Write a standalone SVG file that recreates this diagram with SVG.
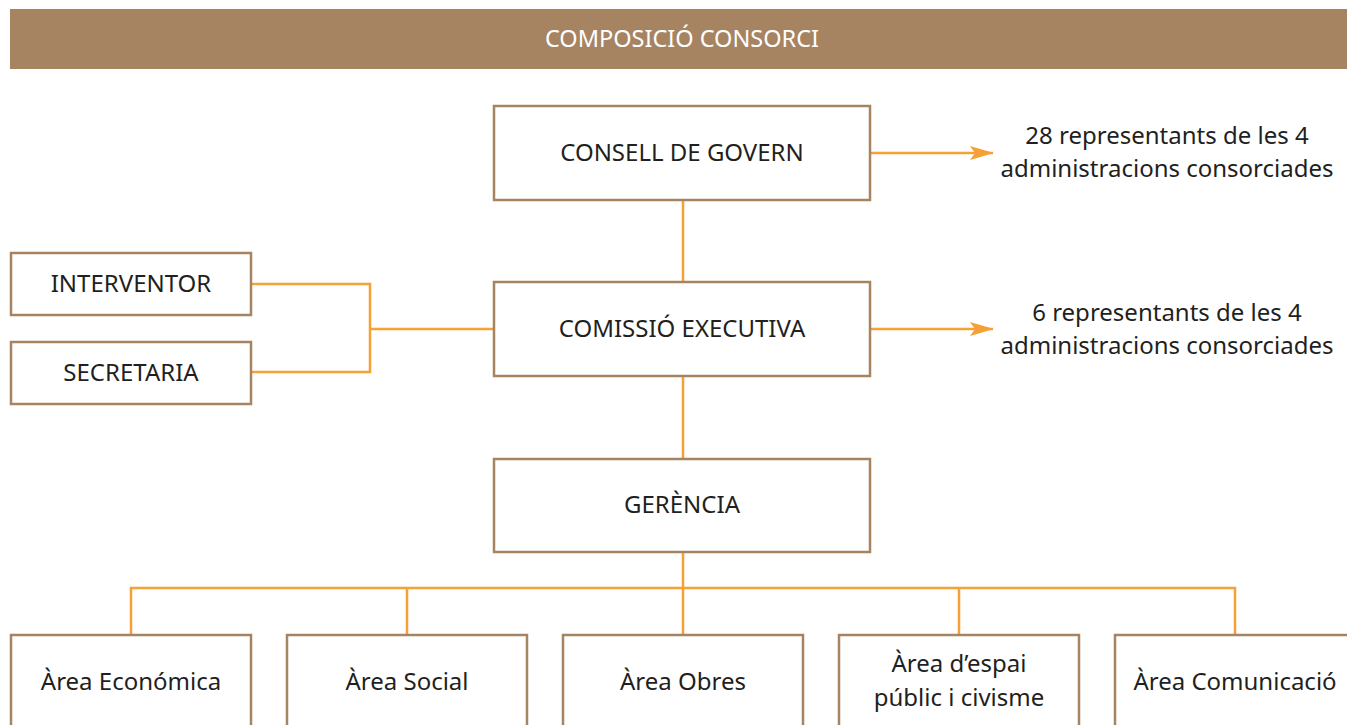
<svg xmlns="http://www.w3.org/2000/svg" width="1347" height="725" viewBox="0 0 1347 725">
<defs>
<style>
.box{fill:#fff;stroke:#a68462;stroke-width:2.5}
.t{font-family:"Noto Sans","Open Sans",sans-serif;font-size:24px;fill:#231f20;text-anchor:middle}
.c{fill:none;stroke:#f7a035;stroke-width:2.5}
.hd{font-family:"Noto Sans","Open Sans",sans-serif;font-size:23.5px;fill:#fff;text-anchor:middle}
</style>
<marker id="ah" markerWidth="24" markerHeight="16" refX="23" refY="8" orient="auto" markerUnits="userSpaceOnUse">
<path d="M0,1 L24,8 L0,15 L5,8 Z" fill="#f7a035"/>
</marker>
</defs>
<rect width="1347" height="725" fill="#fff"/>
<g id="header">
<rect x="10" y="9" width="1337" height="60" fill="#a68462"/>
<text class="hd" x="682" y="47">COMPOSICIÓ CONSORCI</text>
</g>
<g id="connectors">
<path class="c" d="M683,200 V282 M683,377 V458 M683,552 V588 M131,635 V588 H1235 V635 M407,588 V635 M683,588 V635 M959,588 V635"/>
<path class="c" d="M251,284 H370 V372 H251 M370,329 H493"/>
<path class="c" d="M870,153 H993" marker-end="url(#ah)"/>
<path class="c" d="M870,329 H993" marker-end="url(#ah)"/>
</g>
<g id="consell">
<rect class="box" x="494" y="106" width="376" height="94"/>
<text class="t" x="682" y="161">CONSELL DE GOVERN</text>
</g>
<g id="consell-note">
<text class="t" x="1167" y="144">28 representants de les 4</text>
<text class="t" x="1167" y="177">administracions consorciades</text>
</g>
<g id="comissio">
<rect class="box" x="494" y="282" width="376" height="94"/>
<text class="t" x="682" y="337">COMISSIÓ EXECUTIVA</text>
</g>
<g id="comissio-note">
<text class="t" x="1167" y="321">6 representants de les 4</text>
<text class="t" x="1167" y="354">administracions consorciades</text>
</g>
<g id="interventor">
<rect class="box" x="11" y="253" width="240" height="62"/>
<text class="t" x="131" y="292">INTERVENTOR</text>
</g>
<g id="secretaria">
<rect class="box" x="11" y="342" width="240" height="62"/>
<text class="t" x="131" y="381">SECRETARIA</text>
</g>
<g id="gerencia">
<rect class="box" x="494" y="459" width="376" height="93"/>
<text class="t" x="682" y="513">GERÈNCIA</text>
</g>
<g id="area-economica">
<rect class="box" x="11" y="635" width="240" height="100"/>
<text class="t" x="131" y="690">Àrea Económica</text>
</g>
<g id="area-social">
<rect class="box" x="287" y="635" width="240" height="100"/>
<text class="t" x="407" y="690">Àrea Social</text>
</g>
<g id="area-obres">
<rect class="box" x="563" y="635" width="240" height="100"/>
<text class="t" x="683" y="690">Àrea Obres</text>
</g>
<g id="area-espai">
<rect class="box" x="839" y="635" width="240" height="100"/>
<text class="t" x="959" y="672">Àrea d’espai</text>
<text class="t" x="959" y="706">públic i civisme</text>
</g>
<g id="area-comunicacio">
<rect class="box" x="1115" y="635" width="240" height="100"/>
<text class="t" x="1235" y="690">Àrea Comunicació</text>
</g>
</svg>
